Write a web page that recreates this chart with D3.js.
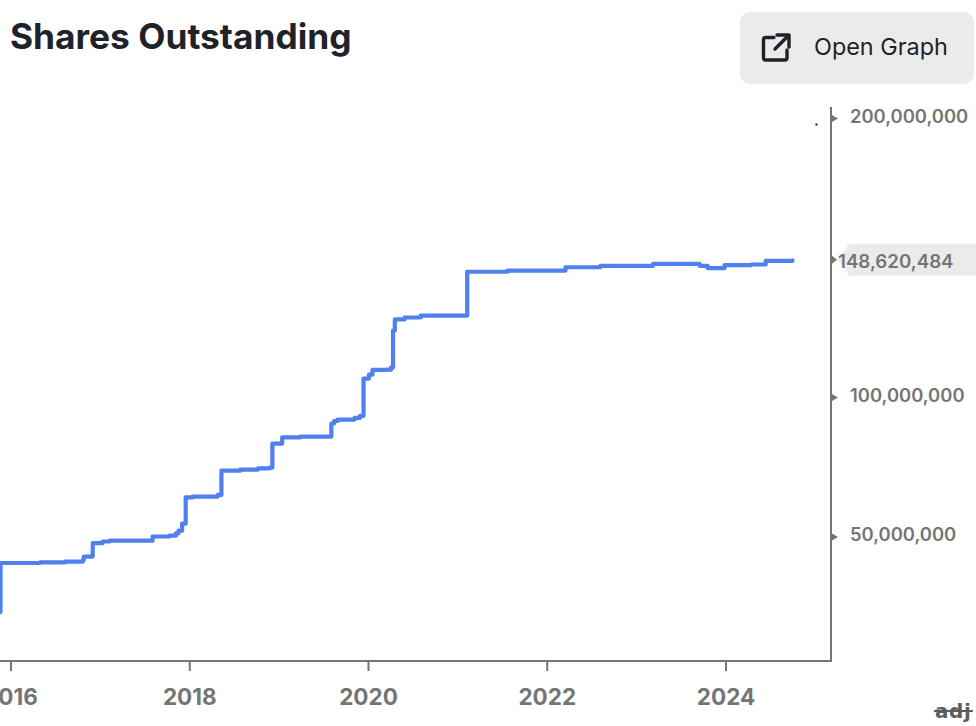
<!DOCTYPE html>
<html>
<head>
<meta charset="utf-8">
<script src="https://cdn.jsdelivr.net/npm/d3@7/dist/d3.min.js"></script>
<style>
html,body{margin:0;padding:0;background:#fff;overflow:hidden}
text{font-family:Inter,"Noto Sans",sans-serif}
</style>
</head>
<body>
<svg id="c" width="976" height="726"></svg>
<script>
const titleText = "Shares Outstanding";
const buttonText = "Open Graph";
const watermark = "adj";
const lastValue = 148620484;
const xTickYears = [2016, 2018, 2020, 2022, 2024];
const yTickValues = [50000000, 100000000, 200000000];
const years = [2015.888,2015.888,2016.33,2016.61,2016.81,2016.82,2016.92,2017.03,2017.11,2017.59,2017.78,2017.85,2017.88,2017.92,2017.96,2018.04,2018.32,2018.36,2018.57,2018.77,2018.90,2018.93,2019.04,2019.24,2019.59,2019.62,2019.66,2019.85,2019.91,2019.95,2020.01,2020.05,2020.21,2020.26,2020.28,2020.30,2020.41,2020.59,2021.11,2021.56,2022.21,2022.60,2023.19,2023.71,2023.80,2023.99,2024.29,2024.45,2024.75];
const sharesM = [22.9,40.5,40.7,41.0,41.6,42.8,47.6,48.2,48.5,50.0,50.3,51.1,52.1,54.6,64.0,64.3,64.9,73.6,74.0,74.4,74.7,83.3,85.5,85.8,90.5,91.4,91.9,92.5,93.2,106.6,108.0,109.7,109.8,110.6,123.8,127.8,128.5,129.2,144.9,145.3,146.5,147.0,147.7,147.0,146.2,147.3,147.5,148.8,149.0];

const svg = d3.select("#c");
const grey = "#757575";
const x = d3.scaleLinear().domain([2016, 2024]).range([10.5, 725.5]);
const y = d3.scaleLinear().domain([50000000, 200000000]).range([536.5, 118]);
const axisRight = 831, axisBottom = 661, axisTop = 107;

// line
svg.append("clipPath").attr("id","clip").append("rect").attr("x",0).attr("y",0).attr("width",axisRight).attr("height",axisBottom);
const line = d3.line().x(d => x(d[0])).y(d => y(d[1] * 1e6)).curve(d3.curveStepAfter);
svg.append("path").datum(years.map((t,i) => [t, sharesM[i]]))
  .attr("d", line).attr("fill","none").attr("stroke","#4f80ee").attr("stroke-width",4.2)
  .attr("stroke-linejoin","round").attr("stroke-linecap","round").attr("clip-path","url(#clip)");

// x axis
const gx = svg.append("g").attr("transform",`translate(0,${axisBottom})`)
  .call(d3.axisBottom(x).tickValues(xTickYears).tickFormat(d3.format("d")).tickSize(10).tickSizeOuter(0).tickPadding(18));
gx.select(".domain").remove();
gx.selectAll("line").attr("stroke",grey).attr("stroke-width",2);
gx.selectAll("text").attr("fill",grey).attr("font-size",22.5).attr("font-weight",700).style("font-family","Inter");
svg.append("line").attr("x1",0).attr("x2",axisRight+1).attr("y1",axisBottom).attr("y2",axisBottom).attr("stroke",grey).attr("stroke-width",2);

// y axis
const gy = svg.append("g").attr("transform",`translate(${axisRight},0)`)
  .call(d3.axisRight(y).tickValues(yTickValues).tickFormat(d3.format(",")).tickSize(0).tickPadding(19));
gy.select(".domain").remove();
gy.selectAll("text").attr("fill",grey).attr("font-size",18.4).attr("font-weight",600).attr("dy","0.22em").style("font-family","Inter");
gy.selectAll(".tick").append("path").attr("d","M1,-3.5L7,0L1,3.5Z").attr("fill",grey);
svg.append("line").attr("x1",axisRight).attr("x2",axisRight).attr("y1",axisTop).attr("y2",axisBottom+1).attr("stroke",grey).attr("stroke-width",2);

// last value badge
const ly = y(lastValue) - 0.5;
svg.append("path").attr("d",`M976,${ly-17}L849,${ly-17}L838,${ly-1}L849,${ly+15}L976,${ly+15}Z`).attr("fill","#ebebeb");
svg.append("path").attr("d",`M832,${ly-5}L837,${ly-1}L832,${ly+3}Z`).attr("fill",grey);
svg.append("text").attr("x",838).attr("y",ly+7).attr("fill",grey).attr("font-size",18.7).attr("font-weight",600).text(d3.format(",")(lastValue));

// stray dot
svg.append("rect").attr("x",815.5).attr("y",123.5).attr("width",2).attr("height",2).attr("fill","#111");

// title
svg.append("text").attr("x",10).attr("y",49).attr("fill","#1f2228").attr("font-size",35.3).attr("font-weight",700).text(titleText);

// button
svg.append("rect").attr("x",740).attr("y",12).attr("width",234).attr("height",72).attr("rx",10).attr("fill","#ebebeb");
const ic = svg.append("g").attr("fill","none").attr("stroke","#1f2228").attr("stroke-width",3.4).attr("stroke-linecap","round").attr("stroke-linejoin","round");
ic.append("path").attr("d","M774,37.5H765.5a2,2 0 0 0 -2,2V58a2,2 0 0 0 2,2H785a2,2 0 0 0 2,-2V50");
ic.append("path").attr("d","M777,35H789V47M788.5,35.5L775,49");
svg.append("text").attr("x",814).attr("y",55).attr("fill","#1f2228").attr("font-size",23.4).attr("font-weight",400).text(buttonText);

// watermark
svg.append("text").attr("x",935).attr("y",718).attr("fill","#5c5c5c").attr("font-size",20).attr("font-weight",700).attr("letter-spacing",0.6).style("font-family","DejaVu Sans").text(watermark);
svg.append("line").attr("x1",934).attr("x2",973).attr("y1",711).attr("y2",711).attr("stroke","#5c5c5c").attr("stroke-width",2);
</script>
</body>
</html>
